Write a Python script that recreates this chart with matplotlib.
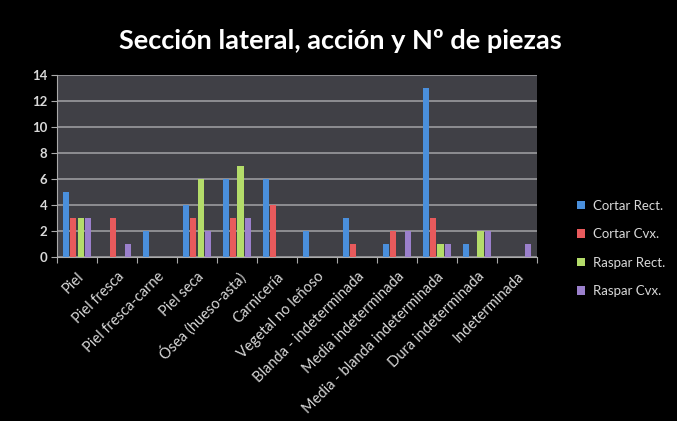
import matplotlib
matplotlib.use("Agg")
import matplotlib.pyplot as plt
import numpy as np

categories = ["Piel", "Piel fresca", "Piel fresca-carne", "Piel seca", "Ósea (hueso-asta)",
              "Carnicería", "Vegetal no leñoso", "Blanda - indeterminada", "Media indeterminada",
              "Media - blanda indeterminada", "Dura indeterminada", "Indeterminada"]
series_names = ["Cortar Rect.", "Cortar Cvx.", "Raspar Rect.", "Raspar Cvx."]
cortar_rect = [5, 0, 2, 4, 6, 6, 2, 3, 1, 13, 1, 0]
cortar_cvx = [3, 3, 0, 3, 3, 4, 0, 1, 2, 3, 0, 0]
raspar_rect = [3, 0, 0, 6, 7, 0, 0, 0, 0, 1, 2, 0]
raspar_cvx = [3, 1, 0, 2, 3, 0, 0, 0, 2, 1, 2, 1]
yticks = [0, 2, 4, 6, 8, 10, 12, 14]
title = "Sección lateral, acción y Nº de piezas"

colors = ["#4a8fdc", "#e85a5c", "#b4dc6a", "#9b80cc"]
txt = "#d8d8d8"
plt.rcParams['font.family'] = ['Lato', 'DejaVu Sans']

fig = plt.figure(figsize=(6.77, 4.21), dpi=100, facecolor="black")
ax = fig.add_axes([0.0842, 0.3895, 0.7088, 0.4325])
ax.set_facecolor("#404046")

x = np.arange(len(categories))
w = 0.18
data = [cortar_rect, cortar_cvx, raspar_rect, raspar_cvx]
for i, (vals, c, name) in enumerate(zip(data, colors, series_names)):
    ax.bar(x + (i - 1.5) * w, vals, width=w * 0.85, color=c, label=name, zorder=3)

ax.set_xlim(-0.5, len(categories) - 0.5)
ax.set_ylim(0, 14)
ax.set_yticks(yticks)
ax.set_yticklabels([str(v) for v in yticks], color=txt, fontsize=9.5, fontweight='bold')
ax.yaxis.grid(True, color="#8e8e92", linewidth=1.4, zorder=0)
ax.set_axisbelow(True)

ax.set_xticks(np.arange(-0.5, len(categories) - 0.4, 1))
ax.set_xticklabels([])
ax.set_xticks(x, minor=True)
ax.set_xticklabels(categories, minor=True, rotation=45, ha='right', rotation_mode='anchor',
                   color=txt, fontsize=10.5)
ax.tick_params(axis='x', which='minor', length=0, pad=9)
ax.tick_params(axis='x', which='major', length=4, color="#aaaaaa", direction='out')
ax.tick_params(axis='y', length=4, color="#aaaaaa", direction='out', pad=3)
for s in ["top", "right"]:
    ax.spines[s].set_visible(False)
ax.spines["left"].set_color("#aaaaaa")
ax.spines["bottom"].set_color("#aaaaaa")

fig.text(0.503, 0.903, title, ha='center', va='center', color='white', fontsize=19.5, fontweight='bold')

leg = fig.legend(loc='center left', bbox_to_anchor=(0.835, 0.41), frameon=False,
                 labelcolor=txt, fontsize=9.5, handlelength=0.6, handleheight=0.6,
                 labelspacing=1.25, handletextpad=0.6)

fig.savefig("out.png", dpi=100, facecolor="black")
